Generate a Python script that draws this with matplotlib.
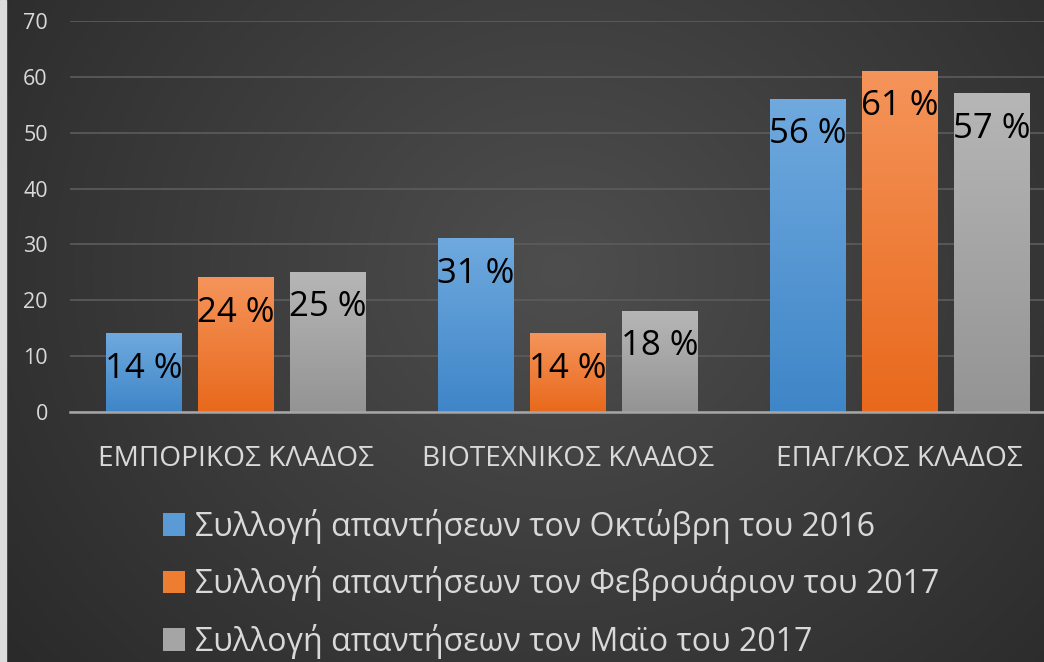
import numpy as np
import matplotlib.pyplot as plt
from matplotlib.patches import Patch, Rectangle

plt.rcParams['font.family'] = ['Open Sans', 'DejaVu Sans']

categories = ['ΕΜΠΟΡΙΚΟΣ ΚΛΑΔΟΣ', 'ΒΙΟΤΕΧΝΙΚΟΣ ΚΛΑΔΟΣ', 'ΕΠΑΓ/ΚΟΣ ΚΛΑΔΟΣ']
series_names = ['Συλλογή απαντήσεων τον Οκτώβρη του 2016',
                'Συλλογή απαντήσεων τον Φεβρουάριον του 2017',
                'Συλλογή απαντήσεων τον Μαϊο του 2017']
oct_2016 = [14, 31, 56]
feb_2017 = [24, 14, 61]
may_2017 = [25, 18, 57]
yticks = [0, 10, 20, 30, 40, 50, 60, 70]

# top / bottom colours of the gradient fills
grads = [('#6fa9de', '#3f86c8'), ('#f5945a', '#e8691c'), ('#b6b6b6', '#949494')]

W, H = 1044, 662
fig = plt.figure(figsize=(W / 100, H / 100), dpi=100)

# background: dark radial gradient
bg = fig.add_axes([0, 0, 1, 1])
yy, xx = np.mgrid[0:H, 0:W]
r = np.sqrt(((xx - 560) / 1.0) ** 2 + ((yy - 270) / 0.9) ** 2) / 720
r = np.clip(r, 0, 1)
c0, c1 = 0x4e / 255, 0x29 / 255
shade = c0 + (c1 - c0) * r
bg.imshow(np.dstack([shade] * 3), extent=[0, W, H, 0], aspect='auto')
bg.add_patch(Rectangle((0, 0), 6, H, color='#dcdcdc'))
bg.set_xlim(0, W)
bg.set_ylim(H, 0)
bg.axis('off')

ax = fig.add_axes([70 / W, 250 / H, 974 / W, 391 / H])
ax.patch.set_alpha(0)

x = np.arange(len(categories))
step = 92 / 332
width = 76 / 332
grad = np.linspace(1, 0, 100).reshape(-1, 1)

for i, vals in enumerate([oct_2016, feb_2017, may_2017]):
    pos = x + (i - 1) * step
    bars = ax.bar(pos, vals, width, color=grads[i][1], zorder=2)
    cmap = plt.matplotlib.colors.LinearSegmentedColormap.from_list('g', [grads[i][1], grads[i][0]])
    for b, v in zip(bars, vals):
        x0 = b.get_x()
        ax.imshow(grad, extent=[x0, x0 + width, 0, v], cmap=cmap, aspect='auto', zorder=3)
        ax.annotate(f'{v} %', (x0 + width / 2, v), xytext=(0, -35), textcoords='offset pixels',
                    ha='center', va='center', fontsize=25, color='black', zorder=5)

ax.set_xlim(-0.5, 2.435)
ax.set_ylim(0, 70)
ax.set_yticks(yticks)
ax.grid(axis='y', color='#5c5c5c', linewidth=1.2, zorder=0)
ax.set_axisbelow(True)
for s in ['top', 'right', 'left']:
    ax.spines[s].set_visible(False)
ax.spines['bottom'].set_color('#a6a6a6')
ax.spines['bottom'].set_linewidth(1.8)
ax.spines['bottom'].set_zorder(4)
ax.tick_params(axis='y', length=0, pad=16, labelsize=15.5, labelcolor='#d9d9d9')
ax.tick_params(axis='x', length=0, pad=24, labelsize=20.2, labelcolor='#d9d9d9')
ax.set_xticks(x)
ax.set_xticklabels(categories)

handles = [Patch(facecolor=c, edgecolor='none') for c in ['#5b9bd5', '#ed7d31', '#a5a5a5']]
leg = fig.legend(handles, series_names, loc='upper left', bbox_to_anchor=(150 / W, 1 - 496 / H),
                 frameon=False, fontsize=23.1, labelcolor='#d9d9d9', handlelength=0.7, handleheight=0.7,
                 handletextpad=0.3, labelspacing=0.7, borderaxespad=0)

fig.savefig('out.png', dpi=100)
